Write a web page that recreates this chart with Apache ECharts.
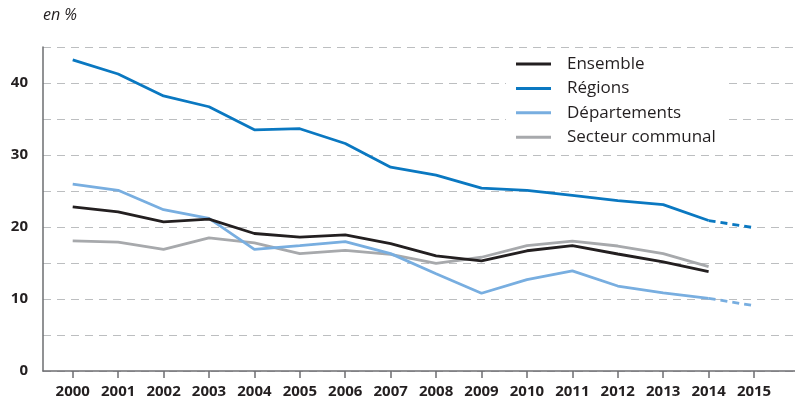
<!DOCTYPE html>
<html>
<head>
<meta charset="utf-8">
<script src="https://cdn.jsdelivr.net/npm/echarts@6/dist/echarts.min.js"></script>
<style>
html,body{margin:0;padding:0;background:#fff;}
#chart{width:795px;height:402px;}
</style>
</head>
<body>
<div id="chart"></div>
<script>
var years = [2000,2001,2002,2003,2004,2005,2006,2007,2008,2009,2010,2011,2012,2013,2014,2015];
var ensemble = [22.8,22.1,20.7,21.1,19.1,18.6,18.9,17.7,16.0,15.3,16.7,17.4,16.25,15.15,13.8,null];
var regions = [43.2,41.25,38.2,36.7,33.5,33.65,31.6,28.3,27.2,25.4,25.1,24.4,23.65,23.1,20.9,19.9];
var departements = [25.97,25.1,22.4,21.2,16.9,17.4,17.96,16.3,13.5,10.8,12.7,13.9,11.8,10.85,10.1,9.07];
var secteur = [18.06,17.9,16.9,18.5,17.8,16.3,16.75,16.2,14.95,15.8,17.4,18.05,17.36,16.3,14.5,null];
var yTicks = [0,10,20,30,40];
var names = ['Ensemble','Régions','Départements','Secteur communal'];

function solid(arr){ // years up to 2014
  var out=[]; for(var i=0;i<years.length;i++){ if(years[i]<=2014 && arr[i]!=null) out.push([years[i],arr[i]]);} return out;
}
function proj(arr){ // 2014 -> 2015 projection
  var out=[]; for(var i=0;i<years.length;i++){ if(years[i]>=2014 && arr[i]!=null) out.push([years[i],arr[i]]);} return out;
}
var colors = {ens:'#231f20', reg:'#0a78c1', dep:'#78aee0', sec:'#a7a9ac'};
var font = '"Open Sans", "Noto Sans", sans-serif';

var chart = echarts.init(document.getElementById('chart'), null, {renderer:'canvas'});
function lineSeries(name, data, color, dashed, z){
  return {
    name:name, type:'line', data:data, showSymbol:false, symbol:'none', z:z,
    lineStyle:{color:color, width:2.8, type: dashed ? [7,5] : 'solid'},
    itemStyle:{color:color}, animation:false, silent:true
  };
}
chart.setOption({
  animation:false,
  textStyle:{fontFamily:font},
  grid:{left:43, right:0, top:47, bottom:31, containLabel:false},
  graphic:[{type:'text', left:43, top:7, style:{text:'en %', font:'italic 16px '+font, fill:'#231f20'}}],
  legend:{
    data:names, orient:'vertical', left:506, top:50,
    icon:'rect', itemWidth:35, itemHeight:3, itemGap:4.4,
    backgroundColor:'#fff', padding:[4,8,4,10],
    textStyle:{fontSize:17, color:'#231f20', fontFamily:font, lineHeight:20, padding:[0,0,0,11]},
    selectedMode:false
  },
  xAxis:{
    type:'value', min:1999.346, max:2015.902,
    splitLine:{show:false},
    axisLine:{show:true, lineStyle:{color:'#6d6e71', width:1.5}},
    axisTick:{show:true, customValues:years, length:7, lineStyle:{color:'#6d6e71', width:1.5}},
    axisLabel:{show:true, customValues:years, fontSize:15, fontWeight:'bold', color:'#231f20', margin:13, fontFamily:font,
      formatter:function(v){ return String(Math.round(v)); }}
  },
  yAxis:{
    type:'value', min:0, max:45, interval:5,
    axisLine:{show:true, lineStyle:{color:'#6d6e71', width:1.5}},
    axisTick:{show:false},
    splitLine:{show:true, lineStyle:{color:'#bcbec0', width:1.2, type:[8,6]}},
    axisLabel:{fontSize:15, fontWeight:'bold', color:'#231f20', margin:15, fontFamily:font,
      formatter:function(v){ return yTicks.indexOf(v)>=0 ? String(v) : ''; }}
  },
  series:[
    lineSeries('Secteur communal', solid(secteur), colors.sec, false, 2),
    lineSeries('Départements', solid(departements), colors.dep, false, 3),
    lineSeries('Départements proj', proj(departements), colors.dep, true, 3),
    lineSeries('Régions', solid(regions), colors.reg, false, 4),
    lineSeries('Régions proj', proj(regions), colors.reg, true, 4),
    lineSeries('Ensemble', solid(ensemble), colors.ens, false, 5)
  ]
});
</script>
</body>
</html>
